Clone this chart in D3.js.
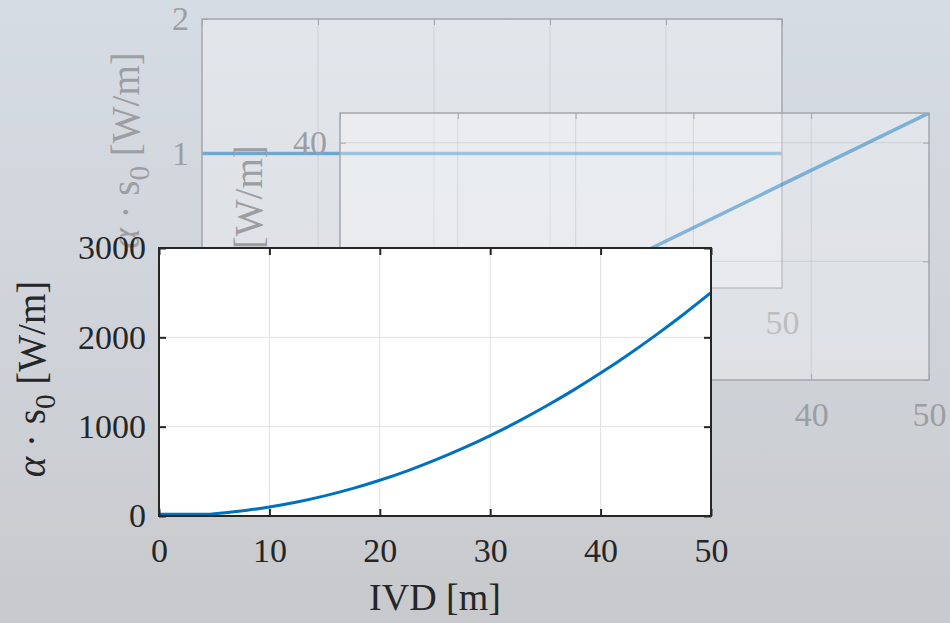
<!DOCTYPE html>
<html>
<head>
<meta charset="utf-8">
<script src="https://cdn.jsdelivr.net/npm/d3@7"></script>
<style>
  html, body { margin: 0; padding: 0; }
  body { width: 950px; height: 623px; overflow: hidden; }
  text { font-family: "Liberation Serif", "Times New Roman", serif; }
</style>
</head>
<body>
<svg id="chart" width="950" height="623"></svg>
<script>
// ---- Data (main chart) ----
const ivd = [0, 2, 4, 4.5, 5, 6, 8, 10, 12.5, 15, 17.5, 20, 22.5, 25, 27.5, 30, 32.5, 35, 37.5, 40, 42.5, 45, 47.5, 50];
const alphaS0 = [20, 20, 20, 20, 25, 36, 64, 100, 156, 225, 306, 400, 506, 625, 756, 900, 1056, 1225, 1406, 1600, 1806, 2025, 2256, 2500];
const xTicks = [0, 10, 20, 30, 40, 50];
const yTicks = [0, 1000, 2000, 3000];

// ---- Faded background panels ----
const ghostAX = [0, 50];
const ghostAY = [1, 1];
const ghostAXTicks = [0, 10, 20, 30, 40, 50];
const ghostAYTicks = [0, 1, 2];

const ghostBX = [20, 50];
const ghostBY = [16, 45];
const ghostBXTicks = [0, 10, 20, 30, 40, 50];
const ghostBYTicks = [0, 20, 40];

const svg = d3.select("#chart");
const fmt = d3.format("d");

// background gradient
const defs = svg.append("defs");
const grad = defs.append("linearGradient").attr("id", "bg").attr("x1", 0).attr("y1", 0).attr("x2", 0).attr("y2", 1);
grad.append("stop").attr("offset", "0%").attr("stop-color", "#d6dce4");
grad.append("stop").attr("offset", "55%").attr("stop-color", "#cfd3d9");
grad.append("stop").attr("offset", "100%").attr("stop-color", "#c8c9cc");
svg.append("rect").attr("width", 950).attr("height", 623).attr("fill", "url(#bg)");

function yLabel(g, x, y, color, size) {
  const t = g.append("text")
    .attr("transform", `translate(${x},${y}) rotate(-90)`)
    .attr("text-anchor", "middle")
    .attr("fill", color)
    .style("font-size", size + "px");
  t.append("tspan").style("font-style", "italic").text("α");
  t.append("tspan").text(" · s");
  t.append("tspan").attr("dy", 10).style("font-size", (size * 0.75) + "px").text("0");
  t.append("tspan").attr("dy", -10).text(" [W/m]");
}

function panel(opt) {
  const g = svg.append("g");
  const x = d3.scaleLinear().domain(opt.xDomain).range([opt.left, opt.right]);
  const y = d3.scaleLinear().domain(opt.yDomain).range([opt.bottom, opt.top]);
  g.append("rect")
    .attr("x", opt.left).attr("y", opt.top)
    .attr("width", opt.right - opt.left).attr("height", opt.bottom - opt.top)
    .attr("fill", opt.fill);
  g.append("g").selectAll("line").data(opt.xTicks.filter(d => d > opt.xDomain[0] && d < opt.xDomain[1]))
    .join("line")
    .attr("x1", d => x(d)).attr("x2", d => x(d))
    .attr("y1", opt.top).attr("y2", opt.bottom)
    .attr("stroke", opt.grid).attr("stroke-width", 1);
  g.append("g").selectAll("line").data(opt.yTicks.filter(d => d > opt.yDomain[0] && d < opt.yDomain[1]))
    .join("line")
    .attr("y1", d => y(d)).attr("y2", d => y(d))
    .attr("x1", opt.left).attr("x2", opt.right)
    .attr("stroke", opt.grid).attr("stroke-width", 1);
  const clipId = "clip" + opt.id;
  defs.append("clipPath").attr("id", clipId).append("rect")
    .attr("x", opt.left).attr("y", opt.top)
    .attr("width", opt.right - opt.left).attr("height", opt.bottom - opt.top);
  const pts = opt.xs.map((d, i) => [d, opt.ys[i]]);
  g.append("path")
    .datum(pts)
    .attr("clip-path", `url(#${clipId})`)
    .attr("fill", "none")
    .attr("stroke", opt.lineColor)
    .attr("stroke-opacity", opt.lineOpacity)
    .attr("stroke-width", opt.lineWidth)
    .attr("d", d3.line().x(d => x(d[0])).y(d => y(d[1])).curve(d3.curveMonotoneX));
  const tl = opt.tickLen;
  const axB = d3.axisBottom(x).tickValues(opt.xTicks).tickFormat(fmt).tickSizeInner(-tl).tickSizeOuter(0).tickPadding(22);
  const axL = d3.axisLeft(y).tickValues(opt.yTicks).tickFormat(fmt).tickSizeInner(-tl).tickSizeOuter(0).tickPadding(13);
  const axT = d3.axisTop(x).tickValues(opt.xTicks).tickSizeInner(-tl).tickSizeOuter(0).tickFormat("");
  const axR = d3.axisRight(y).tickValues(opt.yTicks).tickSizeInner(-tl).tickSizeOuter(0).tickFormat("");
  const style = sel => {
    sel.select(".domain").remove();
    sel.selectAll(".tick line").attr("stroke", opt.axis).attr("stroke-width", opt.tickWidth);
    sel.selectAll(".tick text").attr("fill", opt.text)
      .style("font-family", '"Liberation Serif", "Times New Roman", serif')
      .style("font-size", opt.tickSize + "px");
  };
  g.append("g").attr("transform", `translate(0,${opt.bottom})`).call(axB).call(style);
  g.append("g").attr("transform", `translate(${opt.left},0)`).call(axL).call(style);
  g.append("g").attr("transform", `translate(0,${opt.top})`).call(axT).call(style);
  g.append("g").attr("transform", `translate(${opt.right},0)`).call(axR).call(style);
  g.append("rect")
    .attr("x", opt.left).attr("y", opt.top)
    .attr("width", opt.right - opt.left).attr("height", opt.bottom - opt.top)
    .attr("fill", "none").attr("stroke", opt.axis).attr("stroke-width", opt.frameWidth);
  g.append("text")
    .attr("x", (opt.left + opt.right) / 2).attr("y", opt.bottom + 94)
    .attr("text-anchor", "middle").attr("fill", opt.text)
    .style("font-size", "38px").text("IVD [m]");
  yLabel(g, opt.yLabelX, (opt.top + opt.bottom) / 2 - 3, opt.text, 39);
  return g;
}

// Ghost panel A
panel({
  id: "A", left: 202, right: 782, top: 19, bottom: 288,
  xDomain: [0, 50], yDomain: [0, 2], xTicks: ghostAXTicks, yTicks: ghostAYTicks,
  xs: ghostAX, ys: ghostAY,
  fill: "rgba(255,255,255,0.30)", grid: "rgba(150,155,165,0.25)",
  axis: "#a3a7ad", text: "#9c9ea2", tickSize: 34, tickLen: 6, tickWidth: 1, frameWidth: 1.5,
  lineColor: "#0072BD", lineOpacity: 0.5, lineWidth: 3.5, yLabelX: 139
});

// Ghost panel B
panel({
  id: "B", left: 340, right: 929, top: 113, bottom: 380,
  xDomain: [0, 50], yDomain: [0, 45], xTicks: ghostBXTicks, yTicks: ghostBYTicks,
  xs: ghostBX, ys: ghostBY,
  fill: "rgba(255,255,255,0.32)", grid: "rgba(150,155,165,0.25)",
  axis: "#a3a7ad", text: "#9c9ea2", tickSize: 34, tickLen: 6, tickWidth: 1, frameWidth: 1.5,
  lineColor: "#0072BD", lineOpacity: 0.45, lineWidth: 3.5, yLabelX: 262
});

// Main panel
panel({
  id: "M", left: 159, right: 711, top: 248, bottom: 516,
  xDomain: [0, 50], yDomain: [0, 3000], xTicks: xTicks, yTicks: yTicks,
  xs: ivd, ys: alphaS0,
  fill: "#ffffff", grid: "#e1e1e1",
  axis: "#262626", text: "#262626", tickSize: 34, tickLen: 7, tickWidth: 2, frameWidth: 2,
  lineColor: "#0072BD", lineOpacity: 1, lineWidth: 3, yLabelX: 45
});
</script>
</body>
</html>
